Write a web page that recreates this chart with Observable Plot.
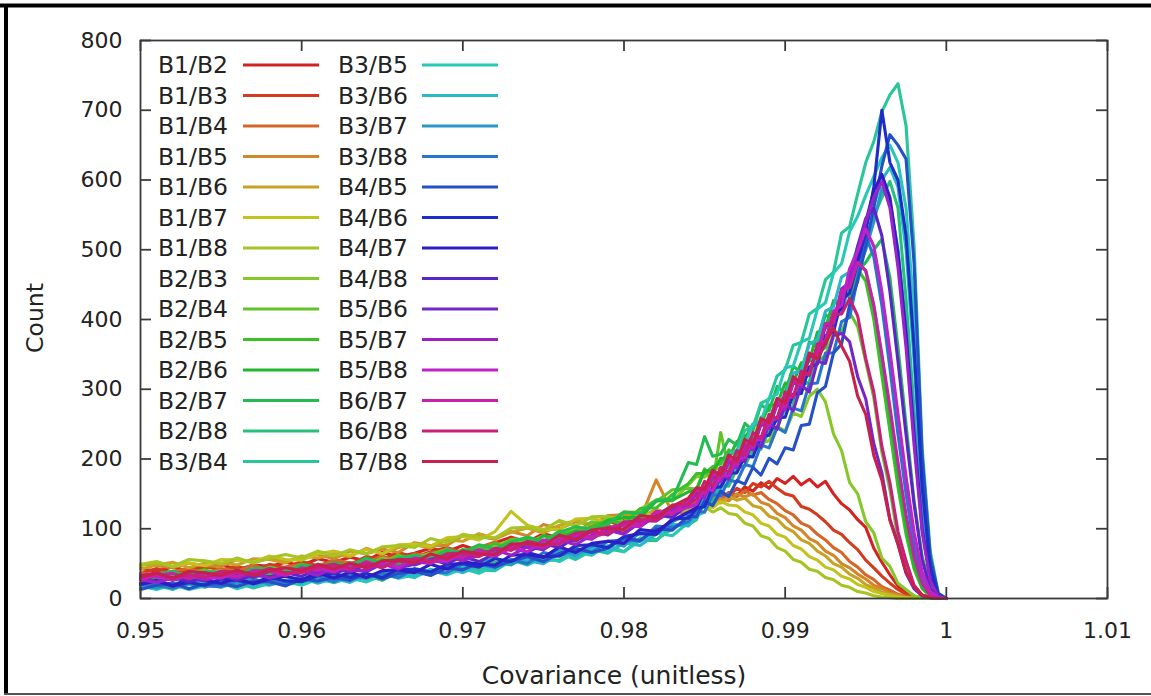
<!DOCTYPE html>
<html><head><meta charset="utf-8">
<script src="https://cdn.jsdelivr.net/npm/d3@7"></script>
<script src="https://cdn.jsdelivr.net/npm/@observablehq/plot@0.6"></script>
<style>html,body{margin:0;padding:0;background:#fff;} svg{display:block;}</style>
</head><body><div id="chart"></div>
<script>
const pairs = ["B1/B2","B1/B3","B1/B4","B1/B5","B1/B6","B1/B7","B1/B8","B2/B3","B2/B4","B2/B5","B2/B6","B2/B7","B2/B8","B3/B4",
  "B3/B5","B3/B6","B3/B7","B3/B8","B4/B5","B4/B6","B4/B7","B4/B8","B5/B6","B5/B7","B5/B8","B6/B7","B6/B8","B7/B8"];
const palette = ["#d42222","#d43a1e","#d4662a","#d4862a","#c8a222","#c4c21e","#a6c424","#86c82a","#62c42a","#3cc028","#22b62e","#22bc52","#26c07a","#28c69a",
  "#28c8b6","#28b8c8","#2898c8","#2876cc","#2450c8","#1e2ec6","#2c1ec4","#5a26c8","#7426c6","#9a22c8","#c022c8","#c820a8","#c82078","#c8204e"];
const covariance = [0.950,0.951,0.952,0.953,0.954,0.955,0.956,0.957,0.958,0.959,
  0.960,0.961,0.962,0.963,0.964,0.965,0.966,0.967,0.968,0.969,
  0.970,0.971,0.972,0.973,0.974,0.975,0.976,0.977,0.978,0.979,
  0.980,0.981,0.982,0.983,0.984,
  0.9845,0.985,0.9855,0.986,0.9865,0.987,0.9875,0.988,0.9885,0.989,
  0.9895,0.990,0.9905,0.991,0.9915,0.992,0.9925,0.993,0.9935,0.994,
  0.9945,0.995,0.9955,0.996,0.9965,0.997,0.9975,0.998,0.9985,0.999,
  0.9995,1.000];
const b1b2 = [43,39,45,39,44,49,41,48,46,52,47,57,52,59,54,66,60,65,72,67,76,69,80,88,81,93,87,101,97,111,103,117,126,119,135,
  138,133,146,141,152,147,160,154,166,158,172,165,175,163,171,160,168,150,136,127,113,102,72,52,34,18,8,3,1,0,0,0];
const b1b3 = [36,43,36,42,46,41,46,40,49,44,53,47,54,49,60,56,66,59,67,73,66,76,71,85,84,80,94,90,104,97,112,106,120,131,126,
  130,140,136,150,146,158,152,165,160,168,158,150,147,132,128,120,110,98,92,80,70,55,44,32,22,13,6,3,1,0,0,0];
const b1b4 = [37,33,39,43,36,43,39,48,39,45,49,44,56,51,51,61,53,64,61,72,65,73,81,72,84,82,93,85,98,104,97,115,112,125,134,
  138,131,144,140,151,146,155,148,152,142,136,126,120,108,103,92,84,73,66,53,45,34,27,17,12,6,3,1,0,0,0,0];
const b1b5 = [49,47,44,51,47,46,56,52,57,53,59,63,57,68,64,71,66,80,76,76,90,89,85,96,90,106,100,110,105,119,120,114,170,123,123,
  128,136,132,143,140,150,146,150,138,134,122,116,104,98,86,80,68,62,50,44,35,28,19,14,8,5,2,1,0,0,0,0];
const b1b6 = [42,48,52,44,51,51,48,57,56,51,61,58,64,60,72,64,73,77,72,84,82,93,86,95,101,94,105,112,106,110,124,116,128,120,132,
  134,130,140,137,146,141,144,133,130,118,114,102,96,84,79,68,61,50,45,35,29,20,15,9,6,3,1,0,0,0,0,0];
const b1b7 = [49,53,46,51,47,56,55,52,61,56,55,64,68,62,70,64,77,78,75,87,89,84,96,125,105,99,99,114,115,109,124,124,118,134,127,
  125,133,130,139,134,133,124,120,108,104,92,88,76,71,60,55,45,41,32,28,20,16,10,7,4,2,1,0,0,0,0,0];
const b1b8 = [47,52,46,56,54,50,58,51,58,63,58,68,61,70,64,74,76,73,86,80,92,88,87,101,102,98,112,104,117,118,110,122,116,124,128,
  126,131,124,130,122,120,108,104,90,86,73,68,56,52,42,39,30,27,19,16,10,8,4,2,1,0,0,0,0,0,0,0];
const b2b3 = [33,29,36,30,35,40,32,39,38,44,39,49,44,51,46,58,52,58,65,60,70,63,75,84,78,90,86,101,99,116,110,128,141,140,163,
  175,174,185,187,196,196,206,209,224,226,247,240,266,261,290,300,282,236,212,166,150,110,94,58,46,22,13,4,1,0,0,0];
const b2b4 = [30,37,31,37,41,36,41,35,45,40,49,43,50,45,56,52,62,56,64,70,64,74,70,85,85,81,97,94,110,106,123,121,139,156,158,
  157,186,165,238,187,212,208,232,228,253,255,281,281,306,310,340,348,380,382,410,390,340,288,210,156,86,48,15,4,1,0,0];
const b2b5 = [30,26,33,37,30,37,33,42,34,40,44,39,51,46,46,56,48,60,57,68,62,70,79,71,84,82,95,88,103,112,107,129,130,149,165,
  179,179,189,193,213,204,234,225,260,252,285,275,313,307,350,347,392,388,434,433,472,455,400,320,240,160,92,42,14,3,0,0];
const b2b6 = [32,30,27,34,30,29,39,34,40,35,42,46,40,51,46,53,47,61,57,57,70,69,66,78,73,90,86,97,94,112,116,116,140,141,153,
  155,184,181,201,201,225,229,250,250,277,278,309,309,338,340,382,387,427,420,463,480,470,420,345,262,180,105,48,16,4,0,0];
const b2b7 = [29,35,39,31,38,38,35,43,43,37,48,45,51,47,58,50,58,62,57,69,66,77,71,81,88,82,95,103,99,107,124,122,141,142,195,
  192,232,204,207,228,220,251,241,278,269,304,295,333,324,368,363,407,398,439,433,468,482,500,515,460,360,250,140,60,18,3,0];
const b2b8 = [20,23,16,20,16,25,23,19,28,22,21,29,33,26,33,26,38,38,34,45,45,40,52,48,61,55,55,69,70,65,80,84,83,105,106,
  113,140,138,162,161,187,190,215,214,241,245,273,276,308,310,352,360,402,410,459,480,512,548,575,598,560,430,270,120,35,5,0];
const b3b4 = [15,19,13,22,20,16,23,15,22,26,21,30,23,31,24,33,34,30,42,35,45,41,40,54,55,51,65,56,69,71,67,87,84,100,112,
  132,139,174,180,208,212,241,246,280,286,319,328,363,367,408,416,457,468,524,533,580,625,655,698,722,738,678,505,215,68,8,0];
const b3b5 = [18,13,20,13,18,23,14,21,19,25,19,28,23,29,24,35,29,34,40,34,43,36,47,55,48,59,53,66,62,76,67,83,94,90,109,
  115,146,151,178,183,212,222,250,254,287,293,331,333,368,373,415,424,467,480,526,548,578,605,632,650,625,560,410,190,55,6,0];
const b3b6 = [15,21,15,20,24,19,23,17,26,21,29,22,29,23,34,29,39,32,39,44,37,47,42,56,55,50,64,59,73,66,80,76,92,106,104,
  119,124,154,157,183,187,214,219,250,256,285,288,323,327,365,371,412,418,461,468,505,535,565,600,618,590,500,340,150,40,4,0];
const b3b7 = [19,15,21,25,18,25,20,29,20,26,29,24,35,30,29,39,31,42,38,48,42,50,58,49,61,58,70,62,75,82,75,95,94,110,122,
  125,150,148,171,171,197,199,225,224,251,255,283,286,316,320,358,364,404,410,453,470,500,540,588,570,500,390,250,110,30,3,0];
const b3b8 = [21,19,15,22,18,17,26,21,26,21,27,31,24,35,29,36,30,43,38,37,50,49,45,56,50,66,61,71,66,82,84,82,104,102,110,
  125,124,149,147,170,167,192,189,220,216,245,238,273,269,308,309,352,352,397,403,460,520,490,420,330,235,150,75,28,6,1,0];
const b4b5 = [13,19,22,14,21,21,17,25,24,18,28,25,30,26,36,28,36,39,33,44,41,52,45,54,60,53,65,72,66,72,87,83,100,98,118,
  117,140,133,154,146,169,164,188,177,201,193,216,213,248,250,295,304,352,365,421,455,505,560,620,665,650,630,480,205,60,7,0];
const b4b6 = [22,26,18,23,19,28,26,22,31,25,24,33,36,30,36,30,42,42,38,49,50,45,57,53,66,60,61,76,77,73,89,93,92,114,115,
  129,132,159,160,180,180,204,203,232,234,259,260,293,294,332,336,377,382,429,438,482,525,590,700,625,600,520,360,160,45,5,0];
const b4b7 = [20,25,18,28,26,22,29,21,28,32,27,37,29,38,30,40,41,37,49,42,53,49,48,62,63,59,74,66,79,82,79,99,96,112,124,
  130,156,153,174,173,199,202,228,227,255,258,287,289,320,323,362,367,410,415,466,490,540,585,608,575,495,380,235,100,28,3,0];
const b4b8 = [28,24,30,24,29,34,26,33,31,37,32,41,36,43,38,50,44,49,56,50,60,53,64,73,66,78,73,88,85,100,93,109,120,116,135,
  152,149,177,171,198,192,221,216,252,246,279,272,310,304,348,346,392,392,441,453,505,545,560,520,440,340,235,135,55,14,2,0];
const b5b6 = [26,33,26,32,36,31,36,30,39,34,43,36,43,38,49,45,55,48,56,61,55,65,60,75,74,70,85,82,97,91,107,103,119,133,131,
  135,160,153,178,171,201,196,228,217,251,243,279,269,306,296,340,337,377,380,368,318,286,222,180,114,78,36,14,4,1,0,0];
const b5b7 = [27,23,29,33,26,33,29,38,29,35,39,33,45,40,40,50,42,53,50,60,54,62,70,62,74,72,84,77,91,98,92,112,111,127,139,
  149,144,174,167,196,187,218,213,250,244,279,270,310,304,350,349,394,395,444,453,500,540,575,598,560,475,360,220,95,26,3,0];
const b5b8 = [33,31,27,34,30,29,39,34,39,34,41,44,38,49,44,51,45,58,54,53,66,65,61,73,67,84,79,90,86,102,105,103,125,123,131,
  135,158,155,176,176,199,202,228,227,254,258,287,289,320,323,362,370,412,420,473,498,530,505,440,355,265,175,95,38,10,1,0];
const b6b7 = [27,33,36,28,35,35,32,40,39,33,44,40,46,42,53,45,53,56,51,62,59,70,63,73,79,73,85,93,88,94,110,106,123,121,141,
  155,150,179,173,200,192,222,217,254,248,281,275,313,307,350,349,394,395,441,446,482,470,420,350,275,195,120,60,22,5,1,0];
const b6b8 = [33,37,29,34,30,39,38,34,43,37,37,45,49,43,50,44,56,56,53,64,65,60,72,69,82,77,78,94,96,92,109,113,112,134,135,
  143,168,161,188,181,212,206,238,230,264,258,296,289,326,320,365,364,407,408,430,405,344,296,218,166,96,54,19,5,1,0,0];
const b7b8 = [31,36,29,39,37,33,41,33,40,44,40,49,42,51,44,54,55,51,64,57,68,64,63,78,79,76,91,84,98,101,99,119,116,132,144,
  159,156,184,177,206,197,228,221,258,252,287,280,318,309,352,343,366,388,362,340,290,264,205,170,112,78,38,17,5,1,0,0];
const counts = [b1b2,b1b3,b1b4,b1b5,b1b6,b1b7,b1b8,b2b3,b2b4,b2b5,b2b6,b2b7,b2b8,b3b4,
  b3b5,b3b6,b3b7,b3b8,b4b5,b4b6,b4b7,b4b8,b5b6,b5b7,b5b8,b6b7,b6b8,b7b8];
const xTicks = [0.95,0.96,0.97,0.98,0.99,1.00,1.01];
const xTickLabels = ["0.95","0.96","0.97","0.98","0.99","1","1.01"];
const yTicks = [0,100,200,300,400,500,600,700,800];
const xTitle = "Covariance (unitless)";
const yTitle = "Count";

const rows = pairs.flatMap((p, i) => covariance.map((x, j) => ({pair: p, x, count: counts[i][j]})));

const W = 1151, H = 696, mL = 140, mR = 44, mT = 40, mB = 98;
const iw = W - mL - mR, ih = H - mT - mB, tl = 11;
const font = "DejaVu Sans, Verdana, sans-serif";
const ink = "#222";
const frameInk = "#3a3a3a";

const chart = Plot.plot({
  width: W, height: H,
  marginLeft: mL, marginRight: mR, marginTop: mT, marginBottom: mB,
  style: {fontFamily: font, fontSize: "22px", color: ink, background: "#fff", overflow: "visible"},
  x: {domain: [0.95, 1.01]},
  y: {domain: [0, 800]},
  color: {domain: pairs, range: palette},
  marks: [
    Plot.line(rows, {x: "x", y: "count", z: "pair", stroke: "pair", strokeWidth: 3.1, strokeLinejoin: "round"}),
    Plot.frame({stroke: frameInk, strokeWidth: 1.8}),
    Plot.tickX(xTicks, {x: d => d, insetTop: ih - tl, stroke: frameInk, strokeWidth: 1.8}),
    Plot.tickX(xTicks, {x: d => d, insetBottom: ih - tl, stroke: frameInk, strokeWidth: 1.8}),
    Plot.tickY(yTicks, {y: d => d, insetRight: iw - tl, stroke: frameInk, strokeWidth: 1.8}),
    Plot.tickY(yTicks, {y: d => d, insetLeft: iw - tl, stroke: frameInk, strokeWidth: 1.8}),
    Plot.axisX(xTicks, {tickSize: 0, tickPadding: 24, fontSize: 22, fill: ink, label: null,
      tickFormat: (d, i) => xTickLabels[i]}),
    Plot.axisY(yTicks, {tickSize: 0, tickPadding: 18, fontSize: 22, fill: ink, label: null})
  ]
});
document.getElementById("chart").appendChild(chart);

const svg = d3.select(chart);
// axis titles
svg.append("text").attr("x", 614).attr("y", 675).attr("dy", "0.35em").attr("text-anchor", "middle")
  .attr("font-family", font).attr("font-size", 25).attr("fill", ink).text(xTitle);
svg.append("text").attr("transform", "translate(35,318) rotate(-90)").attr("dy", "0.35em").attr("text-anchor", "middle")
  .attr("font-family", font).attr("font-size", 23.5).attr("fill", ink).text(yTitle);

// outer border of the picture
svg.append("line").attr("x1", 0).attr("x2", W).attr("y1", 5.5).attr("y2", 5.5).attr("stroke", "#000").attr("stroke-width", 4);
svg.append("line").attr("x1", 6).attr("x2", 6).attr("y1", 4).attr("y2", 694).attr("stroke", "#000").attr("stroke-width", 4);
svg.append("line").attr("x1", 4).attr("x2", W).attr("y1", 694).attr("y2", 694).attr("stroke", "#555").attr("stroke-width", 2);

// legend (two columns inside the plot)
const lg = svg.append("g").attr("font-family", font).attr("font-size", 23.5).attr("fill", ink);
pairs.forEach((p, i) => {
  const col = Math.floor(i / 14), row = i % 14;
  const y = 65 + row * 30.5;
  const tx = col ? 408 : 228, lx = col ? 422 : 243;
  lg.append("text").attr("x", tx).attr("y", y).attr("dy", "0.35em").attr("text-anchor", "end").text(p);
  lg.append("line").attr("x1", lx).attr("x2", lx + 76).attr("y1", y).attr("y2", y)
    .attr("stroke", palette[i]).attr("stroke-width", 3);
});
</script>
</body></html>
